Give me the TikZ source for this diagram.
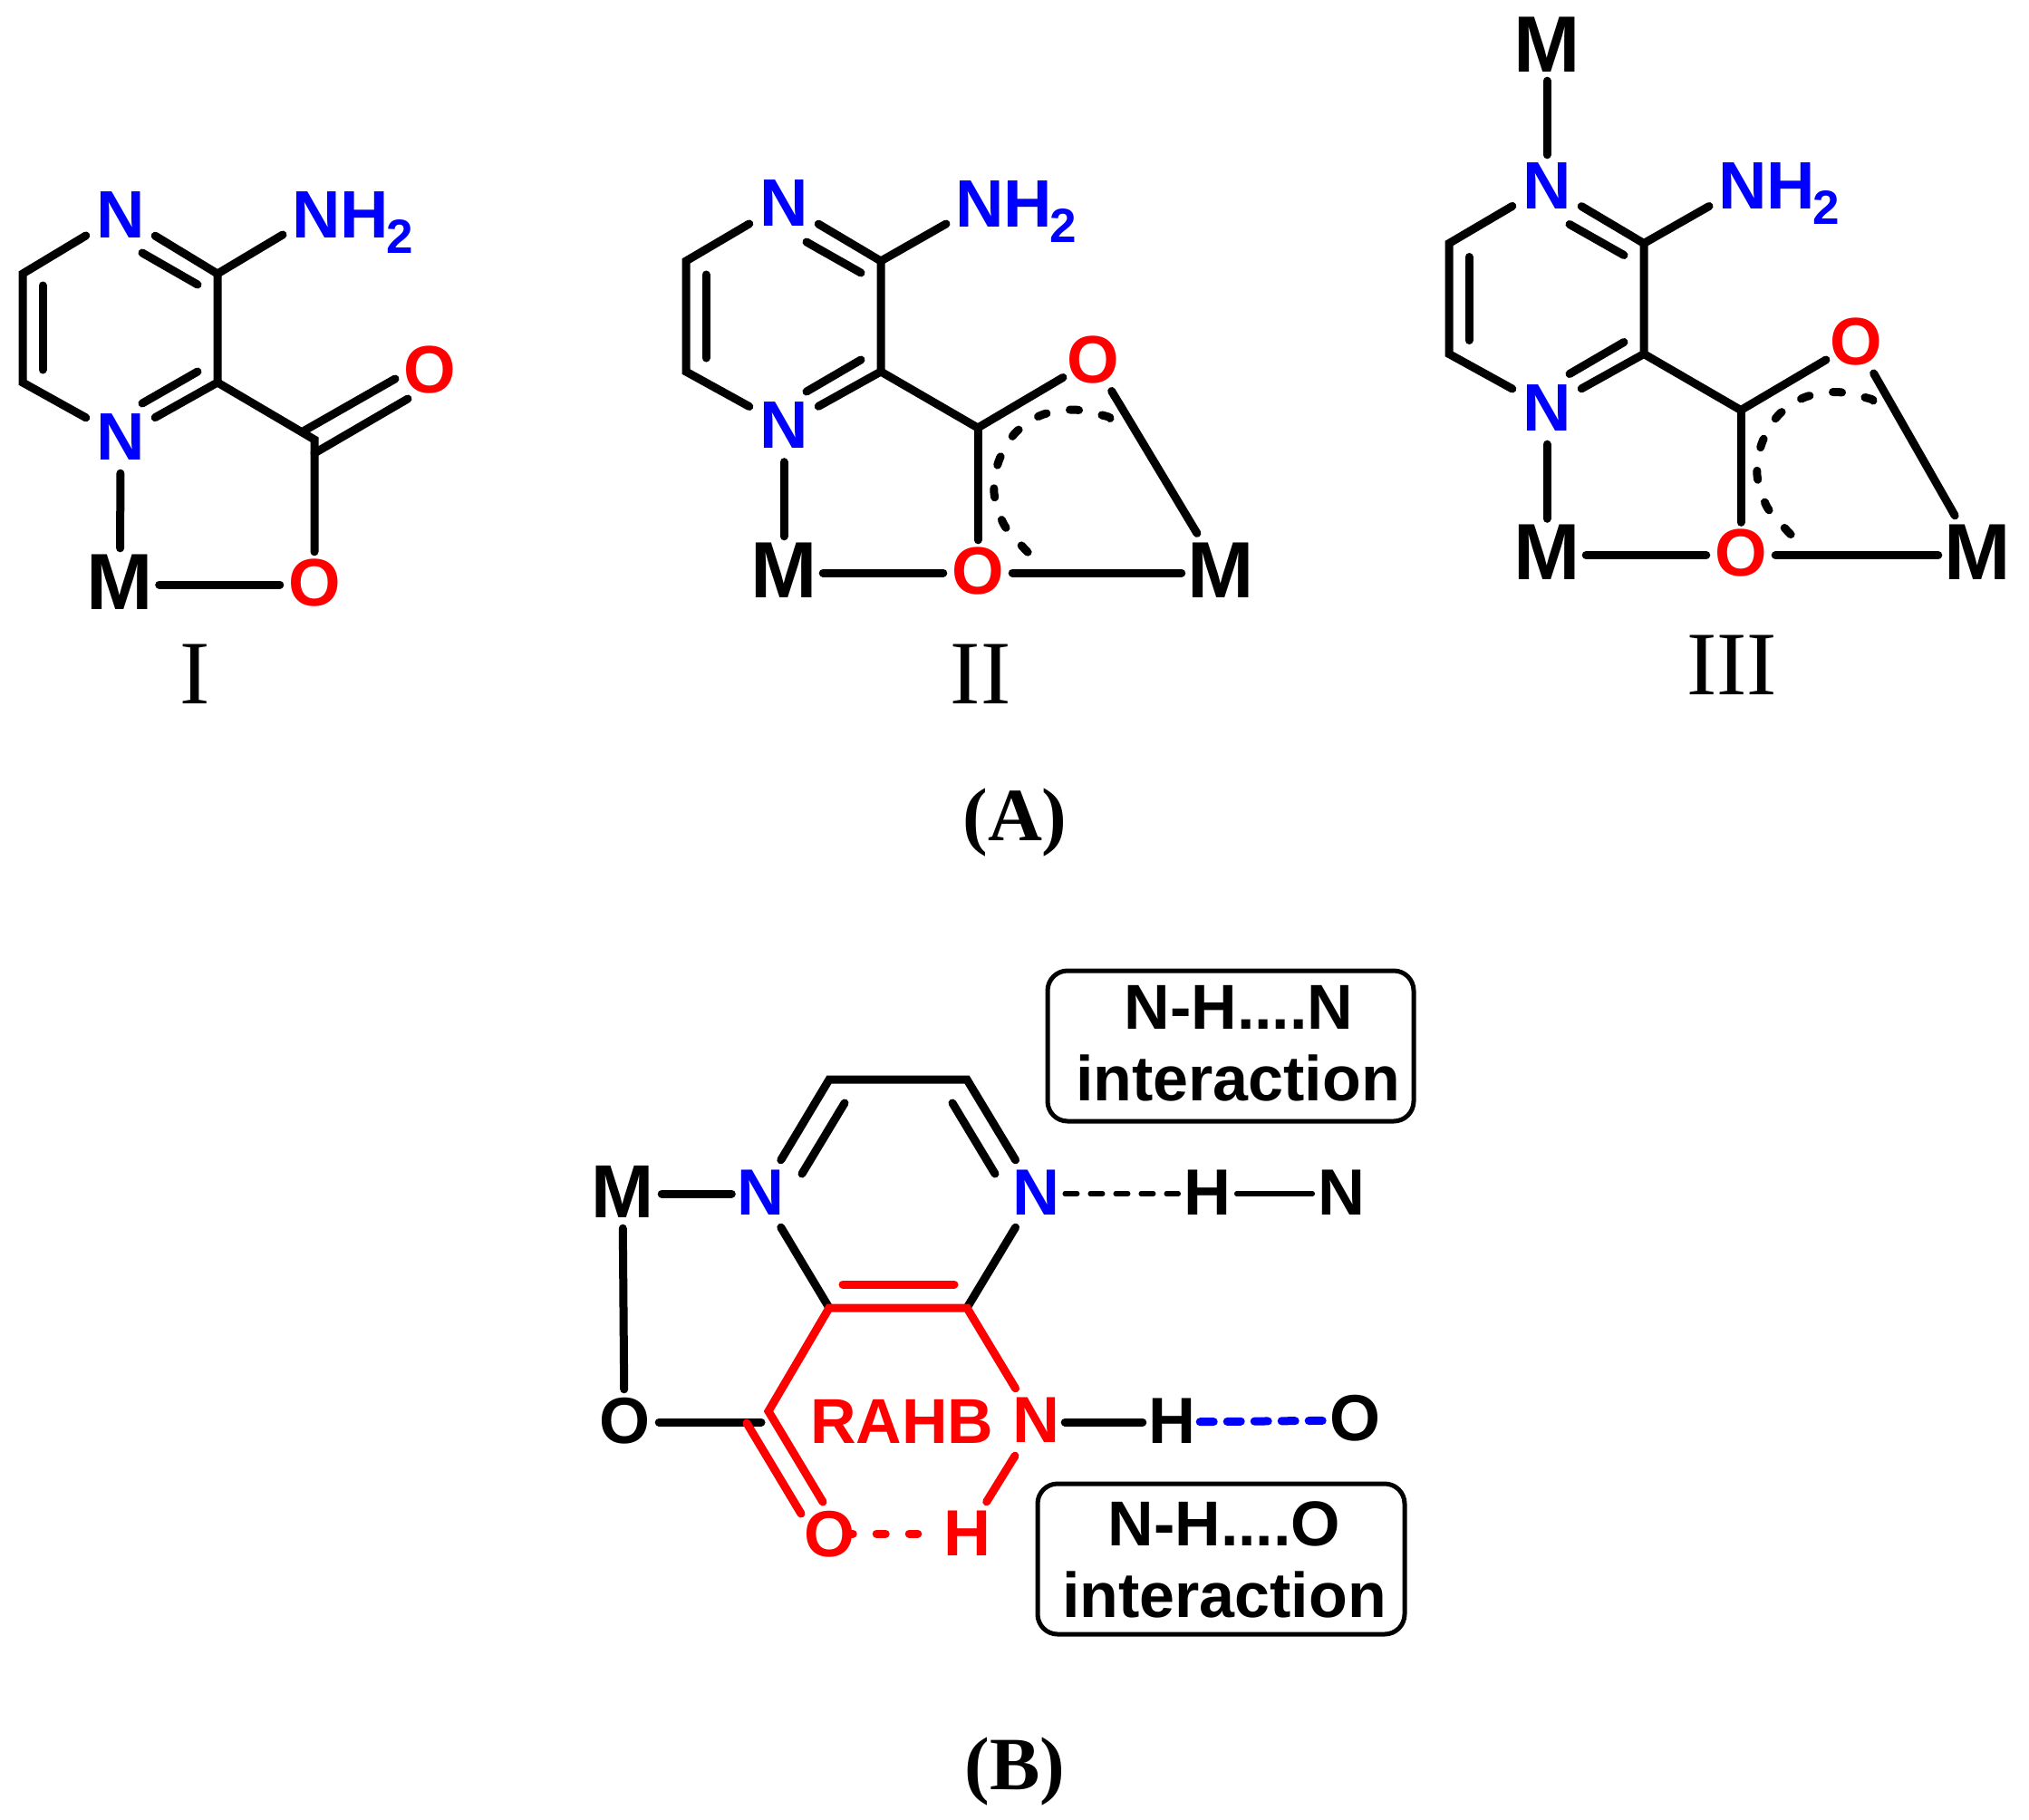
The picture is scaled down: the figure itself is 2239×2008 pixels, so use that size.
\documentclass[tikz,border=0pt]{standalone}
\usepackage{fontspec}
\setmainfont{Liberation Sans}
\newfontfamily\labelfont{Liberation Serif}
\definecolor{atomblue}{RGB}{0,0,255}
\definecolor{atomred}{RGB}{255,0,0}
\newcommand{\atomtxt}[3][0pt]{\fontsize{#2}{#2}\selectfont\bfseries\raisebox{\dimexpr #1-0.344em\relax}[0pt][0pt]{\makebox[0pt]{#3}}}
\newcommand{\subtwo}{\kern-3pt\raisebox{-17pt}{\fontsize{53}{53}\selectfont 2}}
\tikzset{
  bond/.style={line width=9pt,line cap=round,line join=miter},
  thinbond/.style={line width=5.5pt,line cap=round},
  atomN/.style={rectangle,inner sep=0pt,minimum width=76pt,minimum height=80pt,text=atomblue},
  atomNB/.style={rectangle,inner sep=0pt,minimum width=64pt,minimum height=74pt,text=atomblue},
  atomH/.style={rectangle,inner sep=0pt,minimum width=64pt,minimum height=70pt,text=black},
  atomO/.style={rectangle,inner sep=0pt,minimum width=76pt,minimum height=72pt,text=atomred},
  atomM/.style={rectangle,inner sep=0pt,minimum width=86pt,minimum height=80pt,text=black},
  amine/.style={inner sep=0pt,anchor=base west,text=atomblue,font=\fontsize{74}{74}\selectfont\bfseries},
  roman/.style={inner sep=0pt,font=\labelfont\fontsize{100}{100}\selectfont},
  panel/.style={inner sep=0pt,font=\labelfont\bfseries\fontsize{83}{83}\selectfont},
  boxtext/.style={inner sep=0pt,anchor=base,font=\fontsize{70}{70}\selectfont\bfseries},
  noteframe/.style={draw,line width=5pt,rounded corners=22pt,inner sep=0pt},
  arcdash/.style={line width=9pt,line cap=round,dash pattern=on 10pt off 26pt},
  core/.pic={
    \node[atomN] (n1) at (865,224.5) {\atomtxt{74}{N}};
    \node[atomN] (n2) at (865,469.5) {\atomtxt{74}{N}};
    \coordinate (ctr) at (972,288);
    \coordinate (cbr) at (972,410);
    \coordinate (ctl) at (757,288);
    \coordinate (cbl) at (757,410);
    \coordinate (c7) at (1079,472);
    \node[amine] (nh) at (1054,250) {NH\subtwo};
    \coordinate (nhend) at (1044,247);
    \node[atomO] (o1) at (1206,397) {\atomtxt{74}{O}};
    \node[atomO] (o2) at (1079,632) {\atomtxt[2pt]{74}{O}};
    \node[atomM] (m1) at (865,632) {\atomtxt[3pt]{88}{M}};
    \node[atomM] (m2) at (#1,632) {\atomtxt[3pt]{88}{M}};
    \coordinate (a1) at (779,303); \coordinate (a2) at (779,395);
    \coordinate (b1) at (890,267); \coordinate (b2) at (950,301);
    \coordinate (d1) at (890,432); \coordinate (d2) at (950,397);
    \draw[bond] (n1) -- (ctl) -- (cbl) -- (n2);
    \draw[bond] (a1) -- (a2);
    \draw[bond] (n1) -- (ctr) -- (cbr) -- (n2);
    \draw[bond] (b1) -- (b2);
    \draw[bond] (d1) -- (d2);
    \draw[bond] (ctr) -- (nhend);
    \draw[bond,shorten >=-6pt] (cbr) -- (c7) -- (o1);
    \draw[bond] (c7) -- (o2);
    \draw[bond] (n2) -- (m1);
    \draw[bond] (m1) -- (o2);
    \draw[bond] (o2) -- (m2);
    \draw[bond,shorten <=-2pt,shorten >=4pt] (o1) -- (m2);
    \draw[arcdash] plot[smooth] coordinates {(1225,461.5) (1220,459) (1185,452) (1149,458) (1120,478) (1102,509) (1097,544) (1108,579) (1131,606) (1135,609.5)};
  }
}
\begin{document}
\begin{tikzpicture}[x=1pt,y=-1pt]
\useasboundingbox (0,0) rectangle (2239,2008);
% ---------- structure I
\node[atomN] (in1) at (133,237) {\atomtxt{74}{N}};
\node[atomN] (in2) at (133,482) {\atomtxt{74}{N}};
\coordinate (ictr) at (240,302);
\coordinate (icbr) at (240,422);
\coordinate (ictl) at (25,302);
\coordinate (icbl) at (25,422);
\coordinate (ic7) at (347,485);
\node[amine] (inh) at (322,262.7) {NH\subtwo};
\coordinate (inhend) at (312,259);
\node[atomO] (io1) at (474,408) {\atomtxt{74}{O}};
\node[atomO] (io2) at (347,645) {\atomtxt[2pt]{74}{O}};
\node[atomM] (im) at (132.5,645) {\atomtxt[3pt]{88}{M}};
\coordinate (ia1) at (47,315); \coordinate (ia2) at (47,408);
\coordinate (ib1) at (157,279); \coordinate (ib2) at (218,314);
\coordinate (id1) at (157,445); \coordinate (id2) at (218,410);
\coordinate (ie1) at (336,475); \coordinate (ie2) at (436,418);
\coordinate (if1) at (347,500); \coordinate (if2) at (450,440);
\draw[bond] (in1) -- (ictl) -- (icbl) -- (in2);
\draw[bond] (ia1) -- (ia2);
\draw[bond] (in1) -- (ictr) -- (icbr) -- (in2);
\draw[bond] (ib1) -- (ib2);
\draw[bond] (id1) -- (id2);
\draw[bond] (ictr) -- (inhend);
\draw[bond] (icbr) -- (ic7) -- (io2);
\draw[bond] (ie1) -- (ie2);
\draw[bond] (if1) -- (if2);
\draw[bond] (in2) -- (im);
\draw[bond] (im) -- (io2);
\node[roman] (lab1) at (215,744) {I};
% ---------- structures II and III
\pic (ii) at (0,0) {core=1347};
\node[roman] (lab2) at (1082,744) {II};
\begin{scope}[shift={(842,-19.5)}]
\pic (iii) at (0,0) {core=1340};
\node[atomM] (iiim) at (865,68.5) {\atomtxt{88}{M}};
\end{scope}
\draw[bond,shorten >=-6pt] (iiim) -- (iiin1);
\node[roman] (lab3) at (1911,734) {III};
\node[panel] (panA) at (1120,908) {(A)};
% ---------- panel B
\node[atomNB] (bnl) at (839.5,1317) {\atomtxt[1.5pt]{72}{N}};
\node[atomNB] (bnr) at (1143,1317) {\atomtxt[1.5pt]{72}{N}};
\node[atomM,minimum width=86pt,minimum height=76pt] (bm) at (687,1317) {\atomtxt[2pt]{83}{M}};
\node[atomO,text=black] (bo) at (689,1569) {\atomtxt[1pt]{72}{O}};
\coordinate (btl) at (915,1191);
\coordinate (btr) at (1067,1191);
\coordinate (bbl) at (915,1443);
\coordinate (bbr) at (1067,1443);
\coordinate (bc) at (848,1557);
\node[atomNB,text=atomred] (bnh) at (1143,1569) {\atomtxt[2pt]{72}{N}};
\node[atomH,text=atomred] (bhh) at (1067,1692) {\atomtxt{72}{H}};
\node[atomO] (bor) at (915,1692) {\atomtxt[-1pt]{72}{O}};
\node[inner sep=0pt,anchor=base west,text=atomred,font=\fontsize{70}{70}\selectfont\bfseries] (rahb) at (894,1592) {RAHB};
\node[atomH] (bh1) at (1332.5,1317) {\atomtxt[1.5pt]{72}{H}};
\node[atomH] (bn3) at (1480.5,1317) {\atomtxt[1.5pt]{72}{N}};
\node[atomH] (bh2) at (1293,1569) {\atomtxt[1.5pt]{72}{H}};
\node[atomH] (bo3) at (1495,1567) {\atomtxt[2pt]{72}{O}};
\coordinate (bi1) at (932,1217); \coordinate (bi2) at (885,1295);
\coordinate (bj1) at (1051,1217); \coordinate (bj2) at (1098,1295);
\coordinate (bk1) at (930,1417); \coordinate (bk2) at (1053,1417);
\coordinate (bl1) at (908,1657);
\coordinate (bp1) at (824,1570); \coordinate (bp2) at (884,1670);
\coordinate (bq) at (840,1569);
\draw[bond] (bnl) -- (btl) -- (btr) -- (bnr);
\draw[bond] (bi1) -- (bi2);
\draw[bond] (bj1) -- (bj2);
\draw[bond] (bnl) -- (bbl);
\draw[bond] (bnr) -- (bbr);
\draw[bond] (bm) -- (bnl);
\draw[bond] (bm) -- (bo);
\draw[bond] (bo) -- (bq);
\draw[bond,atomred] (bk1) -- (bk2);
\draw[bond,atomred] (bl1) -- (bc) -- (bbl) -- (bbr) -- (bnh);
\draw[bond,atomred] (bp1) -- (bp2);
\draw[bond,atomred] (bnh) -- (bhh);
\draw[bond,atomred,dash pattern=on 10pt off 26pt,dash phase=3pt,shorten <=-19pt,shorten >=22pt] (bor) -- (bhh);
\draw[bond] (bnh) -- (bh2);
\draw[bond,atomblue,dash pattern=on 15pt off 15pt,shorten <=-1pt,shorten >=-1pt] (bh2) -- (bo3);
\draw[thinbond,dash pattern=on 13.5pt off 14.5pt] (bnr) -- (bh1);
\draw[thinbond] (bh1) -- (bn3);
% ---------- note boxes
\node[noteframe,minimum width=404pt,minimum height=166pt] (note1) at (1358,1154) {};
\node[boxtext] (note1a) at (1367,1135) {N-H....N};
\node[boxtext] (note1b) at (1366,1214) {interaction};
\node[noteframe,minimum width=405pt,minimum height=166pt] (note2) at (1347.5,1720) {};
\node[boxtext] (note2a) at (1351,1705) {N-H....O};
\node[boxtext] (note2b) at (1351,1784) {interaction};
\node[panel] (panB) at (1120,1955) {(B)};
\end{tikzpicture}
\end{document}
